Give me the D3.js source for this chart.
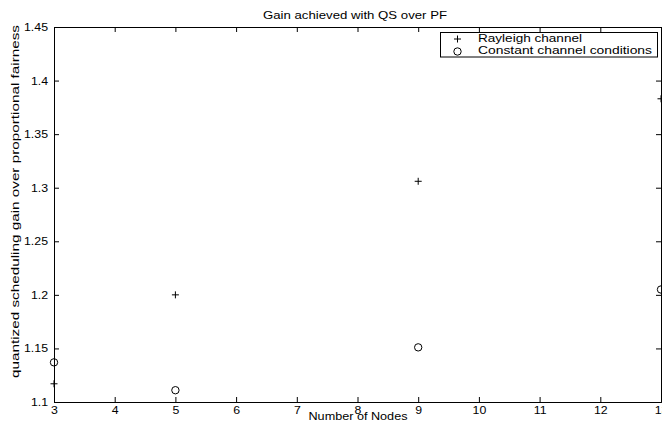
<!DOCTYPE html>
<html>
<head>
<meta charset="utf-8">
<script src="https://cdn.jsdelivr.net/npm/d3@7"></script>
<style>
  body { margin: 0; background: #fff; }
  svg text { font-family: "Liberation Sans", Arial, Helvetica, sans-serif; fill: #000; }
</style>
</head>
<body>
<div id="chart"></div>
<script>
// data
var nodes = [3, 5, 9, 13];
var rayleigh = [1.117, 1.2, 1.306, 1.383];
var constant = [1.137, 1.111, 1.151, 1.205];
var xTicks = [3, 4, 5, 6, 7, 8, 9, 10, 11, 12, 13];
var yTicks = [1.1, 1.15, 1.2, 1.25, 1.3, 1.35, 1.4, 1.45];
var seriesNames = ["Rayleigh channel", "Constant channel conditions"];

var width = 662, height = 430;
var margin = { top: 27, right: 1, bottom: 28, left: 54 };

var svg = d3.select("#chart").append("svg")
  .attr("width", width)
  .attr("height", height);

var x = d3.scaleLinear().domain([3, 13]).range([margin.left, width - margin.right]);
var y = d3.scaleLinear().domain([1.1, 1.45]).range([height - margin.bottom, margin.top]);

var fmt = function (d) { return String(+d.toFixed(2)); };

// the original font is a wide helvetica, stretch text horizontally
function stretch(sel, k) {
  sel.each(function () {
    var w = this.getComputedTextLength();
    d3.select(this).attr("textLength", w * k).attr("lengthAdjust", "spacingAndGlyphs");
  });
}

// axes with inward ticks, mirrored top and right like matlab
svg.append("g")
  .attr("transform", "translate(0," + y.range()[0] + ")")
  .call(d3.axisBottom(x).tickValues(xTicks).tickSize(-5).tickPadding(4).tickFormat(fmt));
svg.append("g")
  .attr("transform", "translate(0," + y.range()[1] + ")")
  .call(d3.axisTop(x).tickValues(xTicks).tickSize(-5).tickFormat(""));
svg.append("g")
  .attr("transform", "translate(" + x.range()[0] + ",0)")
  .call(d3.axisLeft(y).tickValues(yTicks).tickSize(-5).tickPadding(6).tickFormat(fmt));
svg.append("g")
  .attr("transform", "translate(" + x.range()[1] + ",0)")
  .call(d3.axisRight(y).tickValues(yTicks).tickSize(-5).tickFormat(""));

svg.selectAll(".domain").attr("stroke", "#000");
svg.selectAll(".tick line").attr("stroke", "#000");
svg.selectAll(".tick text").attr("font-size", 11).style("font-family", "Liberation Sans, Arial, sans-serif");
stretch(svg.selectAll(".tick text"), 1.12);

// markers
var plot = svg.append("g");
plot.selectAll(".plus").data(nodes).enter().append("path")
  .attr("class", "plus")
  .attr("transform", function (d, i) { return "translate(" + x(d) + "," + y(rayleigh[i]) + ")"; })
  .attr("d", "M-3.5,0H3.5M0,-3.5V3.5")
  .attr("stroke", "#000").attr("stroke-width", 1).attr("fill", "none");
plot.selectAll(".circ").data(nodes).enter().append("circle")
  .attr("class", "circ")
  .attr("cx", function (d) { return x(d); })
  .attr("cy", function (d, i) { return y(constant[i]); })
  .attr("r", 3.7)
  .attr("stroke", "#000").attr("stroke-width", 1).attr("fill", "none");

// title and labels
svg.append("text")
  .attr("x", 355).attr("y", 18.5)
  .attr("text-anchor", "middle").attr("font-size", 11)
  .attr("textLength", 184).attr("lengthAdjust", "spacingAndGlyphs")
  .text("Gain achieved with QS over PF");
svg.append("text")
  .attr("x", 358).attr("y", 420)
  .attr("text-anchor", "middle").attr("font-size", 11)
  .attr("textLength", 99).attr("lengthAdjust", "spacingAndGlyphs")
  .text("Number of Nodes");
svg.append("text")
  .attr("transform", "translate(18.5,201.5) rotate(-90)")
  .attr("text-anchor", "middle").attr("font-size", 10.5)
  .attr("textLength", 353).attr("lengthAdjust", "spacingAndGlyphs")
  .text("quantized scheduling gain over proportional fairness");

// legend
var lg = svg.append("g").attr("transform", "translate(440.5,32.5)");
lg.append("rect").attr("width", 217).attr("height", 24.5)
  .attr("fill", "#fff").attr("stroke", "#000");
lg.append("path").attr("d", "M13.5,6.5H20.5M17,3V10").attr("stroke", "#000").attr("fill", "none");
lg.append("circle").attr("cx", 17).attr("cy", 19).attr("r", 3.7).attr("stroke", "#000").attr("fill", "none");
var legendWidths = [104, 174];
lg.selectAll(".lt").data(seriesNames).enter().append("text")
  .attr("class", "lt")
  .attr("x", 37.5).attr("y", function (d, i) { return 9.5 + i * 12.3; })
  .attr("font-size", 11)
  .attr("textLength", function (d, i) { return legendWidths[i]; })
  .attr("lengthAdjust", "spacingAndGlyphs")
  .text(function (d) { return d; });
</script>
</body>
</html>
